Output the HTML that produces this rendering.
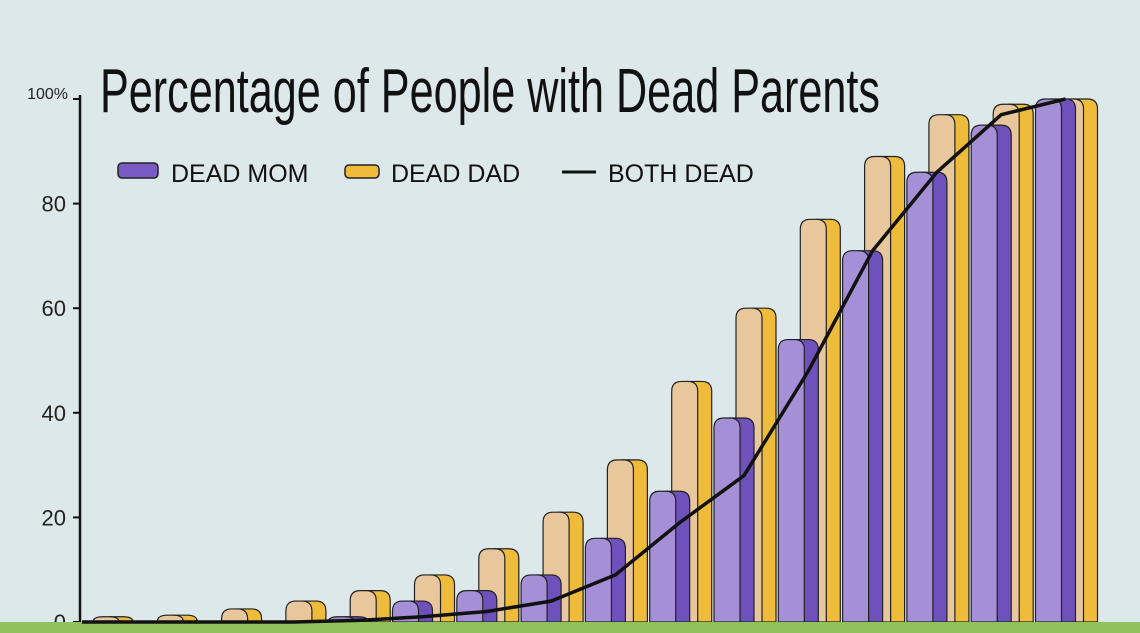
<!DOCTYPE html>
<html><head><meta charset="utf-8"><style>
html,body{margin:0;padding:0;background:#dde8ea;}
svg{display:block;font-family:"Liberation Sans Narrow","Liberation Sans",sans-serif;}
</style></head><body>
<svg id="chart" width="1140" height="633" viewBox="0 0 1140 633">
<rect x="0" y="0" width="1140" height="633" fill="#dde8ea"/>
<text x="100" y="112" font-size="62" fill="#111" textLength="780" lengthAdjust="spacingAndGlyphs" style="font-weight:300">Percentage of People with Dead Parents</text>
<g>
 <g>
  <rect x="118" y="163" width="40" height="15" rx="4" fill="#7a5bc4" stroke="#222" stroke-width="1.5"/>
  <text x="171" y="182" font-size="25" fill="#111">DEAD MOM</text>
 </g>
 <g>
  <rect x="345" y="165" width="34" height="13" rx="4" fill="#f0bb3a" stroke="#222" stroke-width="1.5"/>
  <text x="391" y="182" font-size="25" fill="#111">DEAD DAD</text>
 </g>
 <g>
  <line x1="562" y1="172" x2="596" y2="172" stroke="#111" stroke-width="3"/>
  <text x="608" y="182" font-size="25" fill="#111">BOTH DEAD</text>
 </g>
</g>
<g id="bars"></g>
<g id="axis"></g>
<rect x="0" y="622" width="1140" height="11" fill="#8fc25c"/>
<path id="both" fill="none" stroke="#111" stroke-width="3.5" stroke-linejoin="round"/>
</svg>
<script>
const momValuesAligned=[0,0,0,0,1,4,6,9,16,25,39,54,71,86,95,100];
const dadValues=[1,1.3,2.5,4,6,9,14,21,31,46,60,77,89,97,99,100];
const bothX=[0,1,2,3,4,5,6,7,8,9,10,11,12,13,14,15];
const bothValues=[0,0,0,0,0.3,1,2,4,9,19,28,48,71,86,97,100];
const yTicks=[0,20,40,60,80,100];
const yTickLabels=["0","20","40","60","80","100%"];

const NS="http://www.w3.org/2000/svg";
const y=v=>622-v*5.23;
const momX=i=>71+i*64.3;
const bars=document.getElementById('bars');
function stone(x,v,front,side,name){
  if(v<=0)return;
  const top=y(v),w=26,s=14,r=10,bottom=622;
  const g=document.createElementNS(NS,'g');
  
  
  const sp=document.createElementNS(NS,'path');
  const rr=Math.min(r,bottom-top);
  const sd=`M${x+w-r},${top} L${x+w+s-r},${top} Q${x+w+s},${top} ${x+w+s},${top+rr} L${x+w+s},${bottom} L${x+w},${bottom} Z`;
  sp.setAttribute('d',sd);sp.setAttribute('fill',side);sp.setAttribute('stroke','#222');sp.setAttribute('stroke-width','1.2');
  const fp=document.createElementNS(NS,'path');
  const fd=`M${x},${bottom} L${x},${top+rr} Q${x},${top} ${x+r},${top} L${x+w-r},${top} Q${x+w},${top} ${x+w},${top+rr} L${x+w},${bottom} Z`;
  fp.setAttribute('d',fd);fp.setAttribute('fill',front);fp.setAttribute('stroke','#222');fp.setAttribute('stroke-width','1.2');
  g.appendChild(sp);g.appendChild(fp);
  bars.appendChild(g);
}
for(let i=0;i<dadValues.length;i++){
  stone(momX(i)+22,dadValues[i],'#e9c79c','#efbb3a','bar-dad-'+i);
  stone(momX(i),momValuesAligned[i],'#a58fd6','#6e51bb','bar-mom-'+i);
}
const axis=document.getElementById('axis');
const al=document.createElementNS(NS,'line');
al.setAttribute('x1',80);al.setAttribute('x2',80);al.setAttribute('y1',y(100)-4);al.setAttribute('y2',624);
al.setAttribute('stroke','#111');al.setAttribute('stroke-width','2.5');


axis.appendChild(al);
yTicks.forEach((t,k)=>{
  const tl=document.createElementNS(NS,'line');
  tl.setAttribute('x1',73);tl.setAttribute('x2',80);tl.setAttribute('y1',y(t));tl.setAttribute('y2',y(t));
  tl.setAttribute('stroke','#111');tl.setAttribute('stroke-width','2');
  
  
  axis.appendChild(tl);
  const tx=document.createElementNS(NS,'text');
  tx.setAttribute('x',t===100?68:66);tx.setAttribute('y',y(t)+(t===100?0:8));
  tx.setAttribute('text-anchor','end');tx.setAttribute('font-size',t===100?16:22);tx.setAttribute('fill','#222');
  tx.textContent=yTickLabels[k];
  
  
  axis.appendChild(tx);
});
const bx=i=>momX(i)+30;
let d='M82,'+y(0);
bothX.forEach((xi,k)=>{d+=' L'+bx(xi).toFixed(1)+','+y(bothValues[k]).toFixed(1);});
document.getElementById('both').setAttribute('d',d);
</script>
</body></html>
